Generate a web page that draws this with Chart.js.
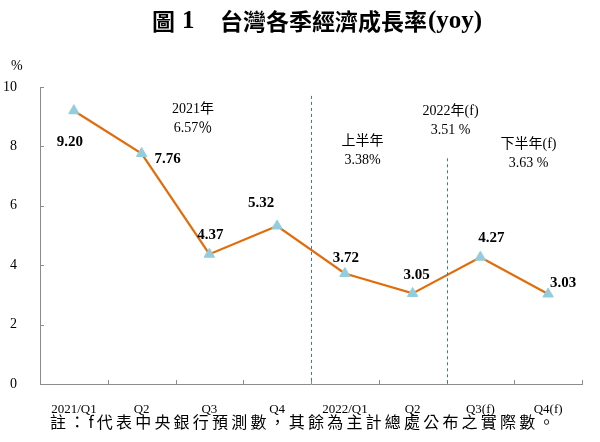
<!DOCTYPE html>
<html>
<head>
<meta charset="utf-8">
<script src="https://cdn.jsdelivr.net/npm/chart.js@4"></script>
<style>
  html, body { margin: 0; padding: 0; background: #fff; }
  #gdpChart { display: block; }
</style>
</head>
<body>
<canvas id="gdpChart" width="600" height="442"></canvas>
<script>
const categories = ['2021/Q1', 'Q2', 'Q3', 'Q4', '2022/Q1', 'Q2', 'Q3(f)', 'Q4(f)'];
const growth = [9.20, 7.76, 4.37, 5.32, 3.72, 3.05, 4.27, 3.03];
const yMin = 0, yMax = 10, yStep = 2;
const periodNotes = [['2021年', '6.57％'], ['上半年', '3.38%'], ['2022年(f)', '3.51 %'], ['下半年(f)', '3.63 %']];
const titleText = ['圖', '1', '台灣各季經濟成長率', '(yoy)'];
const footnote = '註：f代表中央銀行預測數，其餘為主計總處公布之實際數。';

const SERIF = '"Liberation Serif", "Times New Roman", serif';
const CJK = '"Noto Sans CJK TC", "Noto Sans CJK SC", sans-serif';

// label offsets from each point (px)
const labelOffsets = [[-4, 31], [26, 6], [1, -19], [-16, -23], [1, -15], [4, -18], [11, -19], [15, -11]];
// note anchors in (category index, y value)
const noteAnchors = [[1.76, 9.26], [4.26, 8.18], [5.56, 9.19], [6.71, 8.08]];

const extras = {
  id: 'extras',
  afterDraw(chart) {
    const { ctx, scales: { x, y } } = chart;
    ctx.save();

    // title
    ctx.fillStyle = '#000';
    ctx.textBaseline = 'middle';
    ctx.textAlign = 'left';
    ctx.font = 'bold 23px ' + CJK;
    ctx.fillText(titleText[0], 152, 21);
    ctx.font = 'bold 25px ' + SERIF;
    ctx.fillText(titleText[1], 182, 22);
    ctx.font = 'bold 23px ' + CJK;
    ctx.fillText(titleText[2], 220, 21);
    const w = ctx.measureText(titleText[2]).width;
    ctx.font = 'bold 25px ' + SERIF;
    ctx.fillText(titleText[3], 221 + w, 22);

    // % unit
    ctx.font = '14px ' + SERIF;
    ctx.fillText('%', 11, 66);

    // footnote
    ctx.font = '16px ' + CJK;
    ctx.letterSpacing = '3.2px';
    ctx.fillText(footnote, 50, 422);
    ctx.letterSpacing = '0px';

    // small inward ticks
    ctx.strokeStyle = '#8c8c8c';
    ctx.lineWidth = 1;
    ctx.beginPath();
    for (let i = 0; i < categories.length; i++) {
      const px = Math.round(x.getPixelForValue(i + 0.5)) + 0.5;
      ctx.moveTo(px, y.bottom);
      ctx.lineTo(px, y.bottom - 4);
    }
    for (let v = yMin; v <= yMax; v += yStep) {
      const py = Math.round(y.getPixelForValue(v)) + 0.5;
      ctx.moveTo(x.left, py);
      ctx.lineTo(x.left + 4, py);
    }
    ctx.stroke();

    // dashed dividers
    ctx.strokeStyle = '#3f72c2';
    ctx.setLineDash([3, 3]);
    ctx.beginPath();
    let px = Math.round(x.getPixelForValue(3.5)) + 0.5;
    ctx.moveTo(px, y.getPixelForValue(9.7));
    ctx.lineTo(px, y.bottom);
    px = Math.round(x.getPixelForValue(5.5)) + 0.5;
    ctx.moveTo(px, y.getPixelForValue(7.6));
    ctx.lineTo(px, y.bottom);
    ctx.stroke();
    ctx.setLineDash([]);

    // period notes
    ctx.textAlign = 'center';
    ctx.font = '14px ' + SERIF + ', ' + CJK;
    periodNotes.forEach((lines, i) => {
      const cx = x.getPixelForValue(noteAnchors[i][0]);
      const cy = y.getPixelForValue(noteAnchors[i][1]);
      lines.forEach((t, j) => ctx.fillText(t, cx, cy + j * 19));
    });

    // value labels
    ctx.font = 'bold 15px ' + SERIF;
    const meta = chart.getDatasetMeta(0);
    meta.data.forEach((pt, i) => {
      ctx.fillText(growth[i].toFixed(2), pt.x + labelOffsets[i][0], pt.y + labelOffsets[i][1]);
    });

    ctx.restore();
  }
};

new Chart(document.getElementById('gdpChart').getContext('2d'), {
  type: 'line',
  data: {
    labels: categories,
    datasets: [{
      label: 'yoy',
      data: growth,
      borderColor: '#e36c0a',
      borderWidth: 2.2,
      tension: 0,
      pointStyle: 'triangle',
      pointRadius: 6,
      pointBackgroundColor: '#93cddd',
      pointBorderColor: '#93cddd',
      pointBorderWidth: 1
    }]
  },
  options: {
    responsive: false,
    animation: false,
    layout: { padding: { top: 87, right: 18, left: 0, bottom: 0 } },
    plugins: {
      legend: { display: false },
      tooltip: { enabled: false }
    },
    scales: {
      x: {
        offset: true,
        grid: { display: false, offset: true },
        border: { color: '#8c8c8c', width: 1 },
        ticks: { color: '#000', font: { family: SERIF, size: 13 }, padding: 10, maxRotation: 0, autoSkip: false },
        afterFit: s => { s.height = 58; }
      },
      y: {
        min: yMin,
        max: yMax,
        grid: { display: false },
        border: { color: '#8c8c8c', width: 1 },
        ticks: { stepSize: yStep, color: '#000', font: { family: SERIF, size: 14 }, padding: 15 },
        afterFit: s => { s.width = 40; }
      }
    }
  },
  plugins: [extras]
});
</script>
</body>
</html>
